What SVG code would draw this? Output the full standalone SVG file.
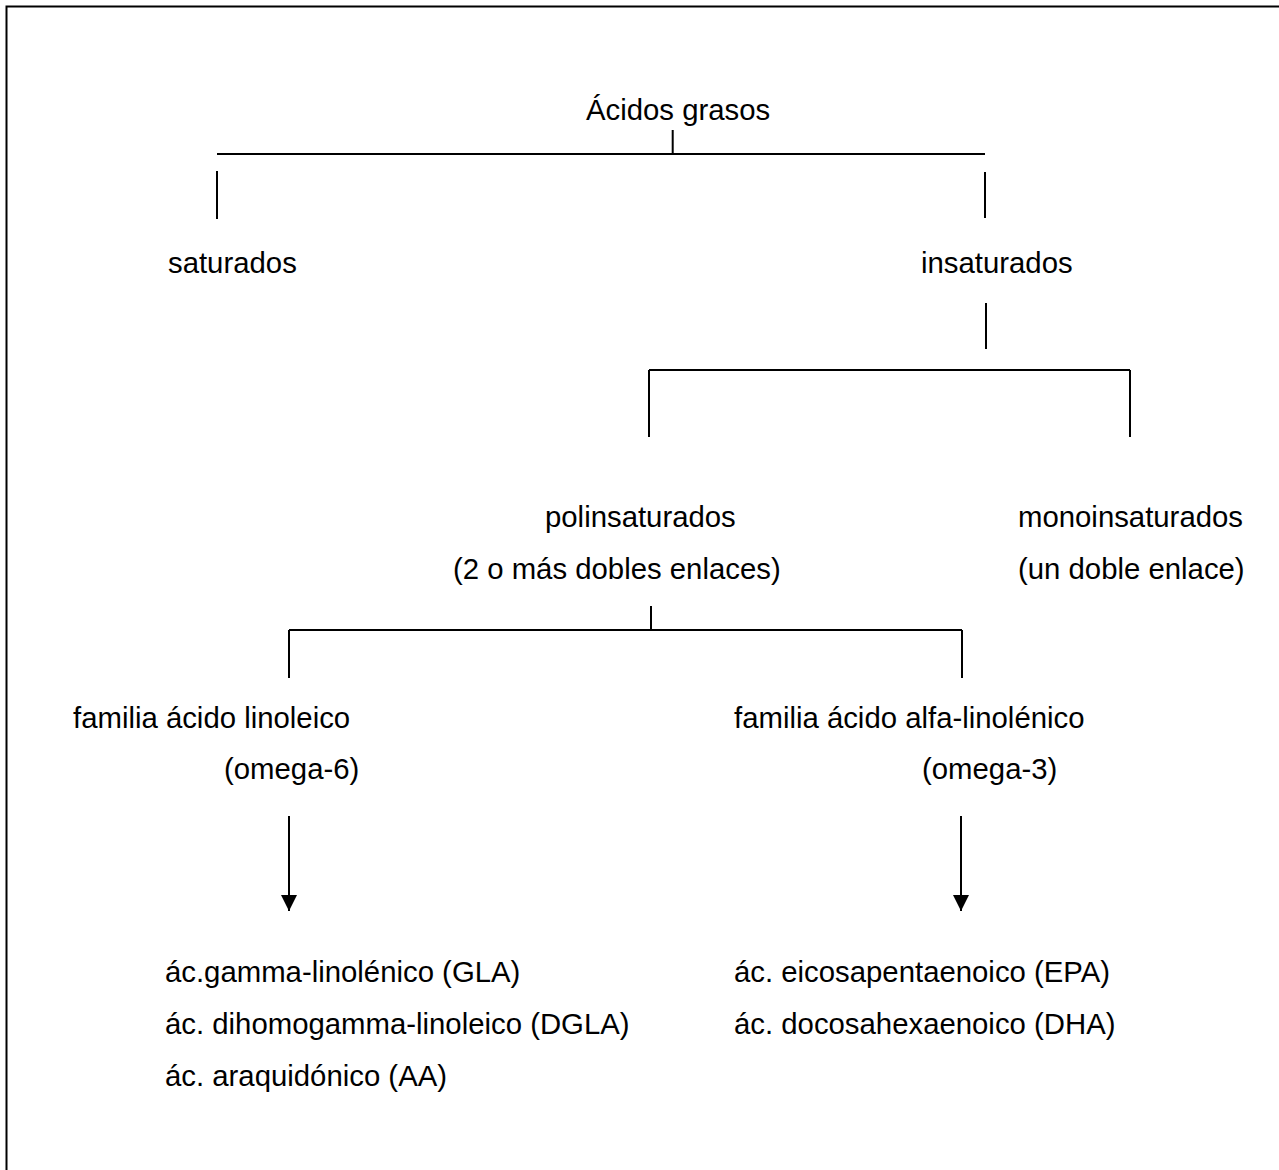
<svg xmlns="http://www.w3.org/2000/svg" width="1279" height="1170" viewBox="0 0 1279 1170">
<style>
text{font-family:"Liberation Sans",Arial,sans-serif;font-size:29.33px;fill:#000}
.ln{stroke:#000;stroke-width:2;fill:none}
</style>
<defs>
<marker id="ah" markerWidth="16" markerHeight="16" refX="16" refY="8" orient="auto" markerUnits="userSpaceOnUse">
<path d="M0,0 L16,8 L0,16 Z" fill="#000"/>
</marker>
</defs>
<rect width="1279" height="1170" fill="#fff"/>
<path class="ln" d="M6.5,1170 V6.5 H1279"/>
<g id="connectors">
<path class="ln" d="M672.7,130 V154 M217,154 H985 M217,171 V219 M985,172 V218"/>
<path class="ln" d="M986,303 V349 M649,370 H1130 M649,370 V437 M1130,370 V437"/>
<path class="ln" d="M651,606 V630 M289,630 H962 M289,630 V678 M962,630 V678"/>
<line class="ln" x1="289" y1="816" x2="289" y2="911" marker-end="url(#ah)"/>
<line class="ln" x1="961" y1="816" x2="961" y2="911" marker-end="url(#ah)"/>
</g>
<g id="n-acidos"><text x="586" y="120">Ácidos grasos</text></g>
<g id="n-saturados"><text x="168" y="273">saturados</text></g>
<g id="n-insaturados"><text x="921" y="273">insaturados</text></g>
<g id="n-poli"><text x="545" y="527">polinsaturados</text><text x="453" y="579">(2 o más dobles enlaces)</text></g>
<g id="n-mono"><text x="1018" y="527">monoinsaturados</text><text x="1018" y="579">(un doble enlace)</text></g>
<g id="n-omega6"><text x="73" y="728">familia ácido linoleico</text><text x="224" y="779">(omega-6)</text></g>
<g id="n-omega3"><text x="734" y="728">familia ácido alfa-linolénico</text><text x="922" y="779">(omega-3)</text></g>
<g id="n-o6list"><text x="165" y="982">ác.gamma-linolénico (GLA)</text><text x="165" y="1034">ác. dihomogamma-linoleico (DGLA)</text><text x="165" y="1086">ác. araquidónico (AA)</text></g>
<g id="n-o3list"><text x="734" y="982">ác. eicosapentaenoico (EPA)</text><text x="734" y="1034">ác. docosahexaenoico (DHA)</text></g>
</svg>
